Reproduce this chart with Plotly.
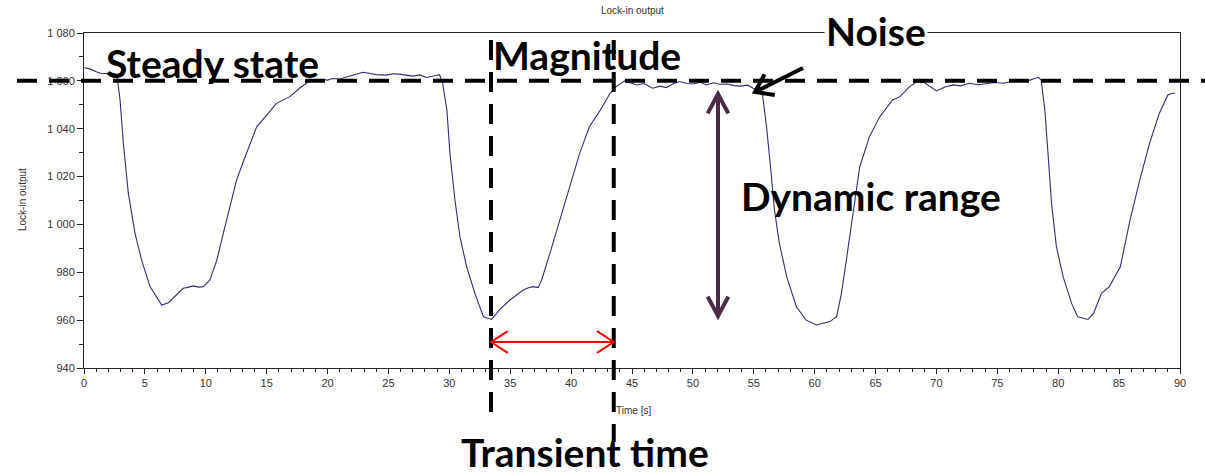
import math
import plotly.graph_objects as go

# ---------------- data ----------------
time_s = [0, 0.5, 1.0, 1.5, 2.0, 2.5, 2.7, 2.96, 3.23, 3.64, 4.19, 4.73, 5.42, 6.0, 6.38,
          6.93, 7.6, 8.15, 8.6, 8.98, 9.4, 9.8, 10.34, 10.9, 11.44, 11.99, 12.53, 13.08,
          13.63, 14.18, 15.0, 15.8, 16.9, 17.7, 18.55, 19.4, 20.0, 20.4, 21.0, 21.5, 22.2,
          22.9, 23.4, 24.0, 24.8, 25.4, 25.9, 26.5, 27.0, 27.6, 28.1, 28.7, 29.2, 29.45,
          29.8, 30.05, 30.46, 30.87, 31.42, 32.1, 32.8, 33.47, 34.15, 34.98, 36.07, 36.5,
          36.9, 37.3, 37.58, 38.26, 39.08, 39.9, 40.7, 41.5, 42.4, 43.2, 43.7, 44.4, 44.9,
          45.4, 46.0, 46.7, 47.3, 47.8, 48.4, 48.9, 49.5, 50.0, 50.6, 51.1, 51.7, 52.2,
          52.8, 53.4, 53.9, 54.5, 54.95, 55.5, 55.7, 56.05, 56.4, 56.7, 57.1, 57.7, 58.5,
          59.3, 60.15, 60.7, 61.25, 61.8, 62.2, 62.6, 63.16, 63.7, 64.5, 65.35, 66.4, 67.0,
          67.8, 68.4, 69.0, 69.5, 70.0, 70.7, 71.4, 72.0, 72.7, 73.4, 74.1, 74.8, 75.5,
          76.2, 76.8, 77.5, 78.35, 78.6, 78.9, 79.2, 79.45, 79.85, 80.4, 81.1, 81.6,
          82.45, 82.9, 83.55, 84.2, 85.1, 85.9, 86.7, 87.5, 88.3, 89.0, 89.4, 89.6]
lockin_output = [1065.5, 1065.0, 1063.8, 1063.0, 1063.2, 1063.0, 1062.5, 1052.0, 1034.0,
                 1013.0, 996.3, 985.1, 974.0, 969.0, 966.3, 967.3, 970.5, 973.3, 973.8,
                 974.3, 973.8, 974.0, 976.8, 985.0, 996.3, 1007.4, 1018.6, 1026.2, 1033.9,
                 1040.8, 1045.7, 1050.6, 1053.4, 1056.9, 1060.0, 1060.6, 1060.3, 1061.0,
                 1060.8, 1061.5, 1062.3, 1063.6, 1063.2, 1062.6, 1062.4, 1063.0, 1062.8,
                 1062.2, 1062.0, 1062.5, 1061.4, 1062.0, 1062.6, 1059.0, 1047.8, 1029.7,
                 1010.2, 994.9, 982.3, 971.2, 961.4, 960.3, 964.5, 968.4, 972.6, 973.5,
                 974.0, 973.6, 976.8, 987.9, 1001.9, 1015.8, 1029.7, 1040.8, 1047.8,
                 1054.8, 1057.6, 1060.0, 1059.2, 1058.3, 1058.9, 1056.9, 1057.8, 1057.2,
                 1058.8, 1059.7, 1058.9, 1058.7, 1059.4, 1058.3, 1059.2, 1058.6, 1058.7,
                 1058.0, 1057.8, 1058.2, 1056.9, 1056.5, 1054.8, 1040.8, 1022.7, 1006.0,
                 992.1, 978.2, 965.6, 960.0, 958.0, 958.8, 959.4, 961.4, 971.2, 985.1,
                 1006.0, 1024.1, 1036.7, 1045.0, 1052.0, 1053.4, 1057.6, 1059.6, 1059.3,
                 1057.5, 1055.8, 1057.4, 1058.3, 1057.9, 1059.0, 1058.4, 1058.7, 1059.3,
                 1059.0, 1059.8, 1060.4, 1060.0, 1061.5, 1060.4, 1047.8, 1026.9, 1008.8,
                 990.7, 978.2, 967.0, 961.4, 960.3, 962.8, 971.2, 974.0, 982.3, 1001.9,
                 1018.6, 1033.9, 1046.4, 1054.1, 1054.8, 1054.8]

x_ticks = list(range(0, 91, 5))
y_ticks = [940, 960, 980, 1000, 1020, 1040, 1060, 1080]
y_tick_labels = ["940", "960", "980", "1 000", "1 020", "1 040", "1 060", "1 080"]

steady_level = 1060
transient_start = 33.42
transient_end = 43.5

# ---------------- geometry helpers ----------------
W, H = 1205, 474
L, R, T, B = 84, 25, 33, 106
XR = (0, 90)
YR = (940, 1080)
pw = W - L - R
ph = H - T - B
pxs = pw / (XR[1] - XR[0])   # px per second
pxu = ph / (YR[1] - YR[0])   # px per unit


def to_data(px, py):
    return XR[0] + (px - L) / pxs, YR[0] + (H - B - py) / pxu


def to_paper_y(py):
    return (H - B - py) / ph


def to_paper_x(px):
    return (px - L) / pw


def arrow_path(p_tail, p_head, double=False, head_len=20, head_ang=32):
    """Build an SVG path (data coords) for an arrow given pixel endpoints."""
    def chevron(tip, other):
        dx, dy = other[0] - tip[0], other[1] - tip[1]
        d = math.hypot(dx, dy)
        ux, uy = dx / d, dy / d
        pts = []
        for s in (1, -1):
            a = math.radians(head_ang) * s
            wx = ux * math.cos(a) - uy * math.sin(a)
            wy = ux * math.sin(a) + uy * math.cos(a)
            pts.append((tip[0] + wx * head_len, tip[1] + wy * head_len))
        return pts

    def fmt(p):
        x, y = to_data(*p)
        return f"{x:.4f},{y:.4f}"

    path = f"M{fmt(p_tail)} L{fmt(p_head)}"
    w1, w2 = chevron(p_head, p_tail)
    path += f" M{fmt(w1)} L{fmt(p_head)} L{fmt(w2)}"
    if double:
        w1, w2 = chevron(p_tail, p_head)
        path += f" M{fmt(w1)} L{fmt(p_tail)} L{fmt(w2)}"
    return path


fig = go.Figure()
fig.add_trace(go.Scatter(x=time_s, y=lockin_output, mode="lines",
                         line=dict(color="#2e2e78", width=1.1),
                         hoverinfo="skip", showlegend=False))

axis_common = dict(showline=True, linecolor="#222", linewidth=1, mirror=True,
                   ticks="outside", tickcolor="#222", showgrid=False, zeroline=False,
                   tickfont=dict(family="Liberation Sans", size=11, color="#333"))
fig.update_xaxes(range=list(XR), tickvals=x_ticks, ticklen=5, tickwidth=1,
                 minor=dict(dtick=1, ticklen=3, ticks="outside", tickcolor="#222"),
                 **axis_common)
fig.update_yaxes(range=list(YR), tickvals=y_ticks, ticktext=y_tick_labels, ticklen=6,
                 tickwidth=1,
                 minor=dict(dtick=10, ticklen=4, ticks="outside", tickcolor="#222"),
                 **axis_common)

shapes = []
# horizontal steady-state dashed line
shapes.append(dict(type="line", xref="paper", yref="y",
                   x0=to_paper_x(17), x1=to_paper_x(1205), y0=steady_level, y1=steady_level,
                   line=dict(color="black", width=4, dash="20px,12px"), layer="above"))
# vertical dashed lines
shapes.append(dict(type="line", xref="x", yref="paper", x0=transient_start, x1=transient_start,
                   y0=to_paper_y(40), y1=to_paper_y(420),
                   line=dict(color="black", width=4, dash="20px,12px"), layer="above"))
shapes.append(dict(type="line", xref="x", yref="paper", x0=transient_end, x1=transient_end,
                   y0=to_paper_y(40), y1=to_paper_y(442),
                   line=dict(color="black", width=4, dash="20px,12px"), layer="above"))
# red transient-time double arrow
ry = 342
rx0 = L + (transient_start - XR[0]) * pxs
rx1 = L + (transient_end - XR[0]) * pxs
shapes.append(dict(type="path", xref="x", yref="y",
                   path=arrow_path((rx0, ry), (rx1, ry), double=True, head_len=20, head_ang=33),
                   line=dict(color="#ff0000", width=2), layer="above"))
# purple dynamic range double arrow
shapes.append(dict(type="path", xref="x", yref="y",
                   path=arrow_path((718, 316), (718, 94), double=True, head_len=22, head_ang=28),
                   line=dict(color="#4b2a48", width=4), layer="above"))
# black noise arrow
shapes.append(dict(type="path", xref="x", yref="y",
                   path=arrow_path((803, 68), (755, 92), head_len=20, head_ang=35),
                   line=dict(color="black", width=4), layer="above"))

big = dict(family="Lato", size=39, color="black", weight="bold")
annotations = [
    dict(text="<b>Steady state</b>", x=to_paper_x(212), y=to_paper_y(63)),
    dict(text="<b>Magnitude</b>", x=to_paper_x(587), y=to_paper_y(55)),
    dict(text="<b>Noise</b>", x=to_paper_x(876), y=to_paper_y(31), bgcolor="white"),
    dict(text="<b>Dynamic range</b>", x=to_paper_x(871), y=to_paper_y(196)),
    dict(text="<b>Transient time</b>", x=to_paper_x(585), y=to_paper_y(452)),
]
for a in annotations:
    a.update(xref="paper", yref="paper", showarrow=False, xanchor="center",
             yanchor="middle", font=big)

small = dict(family="Liberation Sans", size=10, color="#333")
annotations += [
    dict(text="Lock-in output", xref="paper", yref="paper", x=0.5, y=to_paper_y(11),
         showarrow=False, font=small, xanchor="center", yanchor="middle"),
    dict(text="Time [s]", xref="paper", yref="paper", x=to_paper_x(633), y=to_paper_y(410),
         showarrow=False, font=small, xanchor="center", yanchor="middle"),
    dict(text="Lock-in output", xref="paper", yref="paper", x=to_paper_x(22),
         y=to_paper_y(200), showarrow=False, font=small, textangle=-90,
         xanchor="center", yanchor="middle"),
]

fig.update_layout(width=W, height=H, margin=dict(l=L, r=R, t=T, b=B),
                  plot_bgcolor="white", paper_bgcolor="white",
                  shapes=shapes, annotations=annotations, showlegend=False)

fig.write_html("out.html")
